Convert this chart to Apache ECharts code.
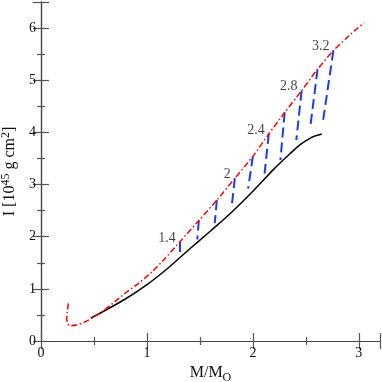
<!DOCTYPE html>
<html>
<head>
<meta charset="utf-8">
<script src="https://cdn.jsdelivr.net/npm/echarts@6/dist/echarts.min.js"></script>
<style>html,body{margin:0;padding:0;background:#fff;}#c{width:382px;height:382px;}</style>
</head>
<body>
<div id="c"></div>
<script>
// Static (non-rotating) sequence: moment of inertia vs mass
var staticCurve = [[0.47,0.44],[0.6,0.58],[0.8,0.81],[1.0,1.08],[1.2,1.40],[1.4,1.76],[1.6,2.11],[1.8,2.47],[2.0,2.87],[2.2,3.30],[2.35,3.59],[2.45,3.77],[2.55,3.90],[2.6,3.94],[2.65,3.97]];
// Keplerian (mass-shedding) sequence
var keplerCurve = [[0.258,0.72],[0.248,0.55],[0.243,0.42],[0.252,0.33],[0.28,0.29],[0.34,0.31],[0.40,0.35],[0.49,0.45],[0.59,0.58],[0.70,0.76],[0.81,0.94],[0.93,1.12],[1.05,1.33],[1.17,1.58],[1.31,1.90],[1.49,2.31],[1.66,2.70],[1.83,3.12],[2.00,3.54],[2.15,3.97],[2.30,4.38],[2.46,4.80],[2.61,5.21],[2.76,5.57],[2.88,5.80],[2.96,5.95],[3.05,6.10]];
// Constant baryon mass sequences: [top point, bottom point]
var seqTop = [[1.31,1.90],[1.49,2.31],[1.66,2.70],[1.83,3.12],[2.00,3.54],[2.15,3.97],[2.30,4.38],[2.46,4.80],[2.61,5.21],[2.76,5.57]];
var seqBottom = [[1.31,1.70],[1.475,1.95],[1.64,2.26],[1.80,2.58],[1.955,2.92],[2.11,3.20],[2.26,3.47],[2.41,3.85],[2.54,4.07],[2.66,4.19]];
// Baryon-mass labels and which sequence they annotate
var labelText = ['1.4','2','2.4','2.8','3.2'];
var labelIdx = [0,3,5,7,9];
var xTicks = [0,1,2,3];
var yTicks = [0,1,2,3,4,5,6];

var FONT = 'Liberation Serif';
var chart = echarts.init(document.getElementById('c'));
var seqLines = seqTop.map(function(t,i){ return {coords:[t, seqBottom[i]]}; });
var labelPts = labelIdx.map(function(k,i){ return {value: seqTop[k], label:{formatter: labelText[i]}}; });

function ax(extra){
  var base = {
    type:'value',
    axisLine:{show:true,lineStyle:{color:'#444',width:1.2}},
    axisTick:{show:true,inside:true,length:8,lineStyle:{color:'#555',width:1.2}},
    minorTick:{show:true,splitNumber:2,length:4,lineStyle:{color:'#555',width:1.2}},
    splitLine:{show:false},
    minorSplitLine:{show:false},
    axisLabel:{fontFamily:FONT,fontSize:14,color:'#111',margin:5}
  };
  return Object.assign(base, extra);
}

chart.setOption({
  animation:false,
  grid:{left:41,right:2,top:2,bottom:41,containLabel:false,outerBoundsMode:'none'},
  xAxis:[
    ax({min:0,max:3.2,interval:1,position:'bottom',
      name:'{n|M/M}{sub|O}',nameLocation:'middle',nameGap:16,
      nameTextStyle:{fontFamily:FONT,color:'#111',rich:{n:{fontFamily:FONT,fontSize:16,color:'#111'},sub:{fontFamily:FONT,fontSize:12,color:'#111',padding:[9,0,0,0]}}},
      axisLabel:{fontFamily:FONT,fontSize:14,color:'#111',margin:5,formatter:function(v){return xTicks.indexOf(v)>=0?String(v):'';}}}),
    ax({min:0,max:3.2,interval:1,position:'top',axisLabel:{show:false}})
  ],
  yAxis:[
    ax({min:0,max:6.5,interval:1,position:'left',
      name:'{n|I [10}{sup|45}{n| g cm}{sup|2}{n|]}',nameLocation:'middle',nameGap:18,nameRotate:90,
      nameTextStyle:{fontFamily:FONT,color:'#111',rich:{n:{fontFamily:FONT,fontSize:16,color:'#111'},sup:{fontFamily:FONT,fontSize:12,color:'#111',padding:[0,0,9,0]}}},
      axisLabel:{fontFamily:FONT,fontSize:14,color:'#111',margin:5,formatter:function(v){return yTicks.indexOf(v)>=0?String(v):'';}}}),
    ax({min:0,max:6.5,interval:1,position:'right',axisLabel:{show:false}})
  ],
  series:[
    {type:'line',data:staticCurve,symbol:'none',smooth:0.3,lineStyle:{color:'#000',width:1.5},z:3},
    {type:'line',data:keplerCurve,symbol:'none',smooth:0.2,lineStyle:{color:'#ff0000',width:1.5,type:[6,2.5,1.5,2.5]},z:4},
    {type:'lines',coordinateSystem:'cartesian2d',data:seqLines,lineStyle:{color:'#1a3cf0',width:2,type:[10,5],opacity:1},z:2},
    {type:'scatter',data:labelPts,symbolSize:0,
      label:{show:true,position:'left',distance:4,offset:[0,-4],fontFamily:FONT,fontSize:14,color:'#111'},z:5}
  ]
});
</script>
</body>
</html>
